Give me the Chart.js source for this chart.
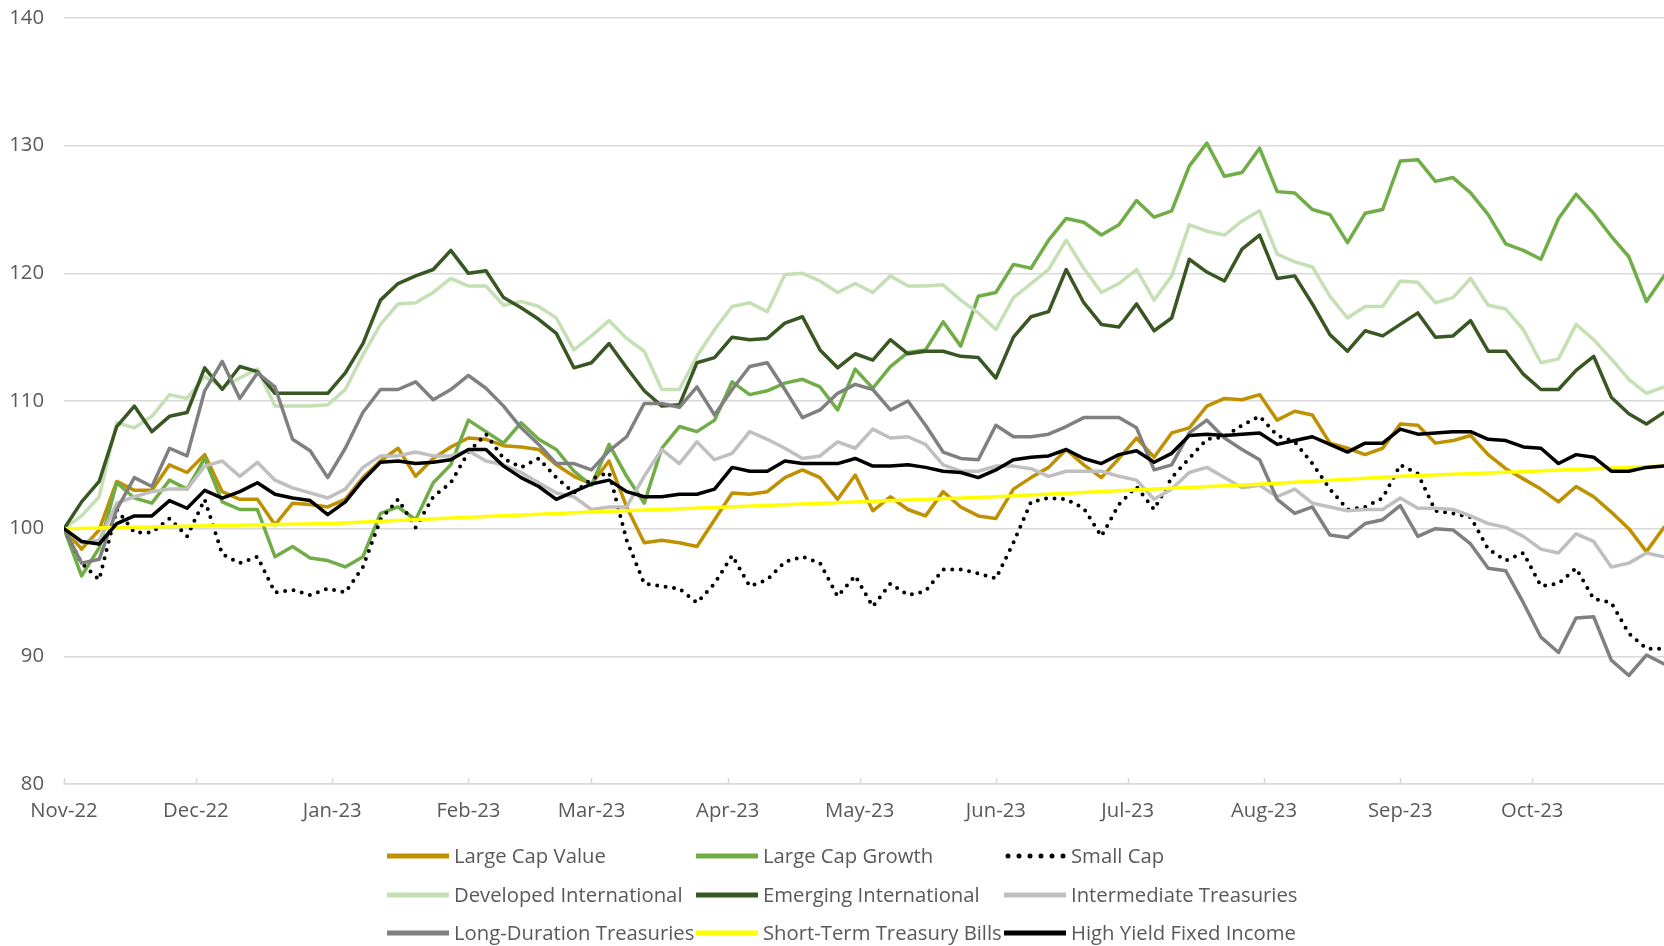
<!DOCTYPE html>
<html>
<head>
<meta charset="utf-8">
<title>Asset class growth of 100</title>
<script src="https://cdn.jsdelivr.net/npm/chart.js@4.4.1/dist/chart.umd.min.js"></script>
<style>
  html, body { margin: 0; padding: 0; background: #ffffff; }
  #wrap { width: 1664px; height: 946px; }
</style>
</head>
<body>
<div id="wrap"><canvas id="gIndex" width="1664" height="946"></canvas></div>
<script>
// x = days since 1 Nov 2022, one reading every 4 days
var days = Array.from({ length: 92 }, function (_, i) { return i * 4; });

var monthDays = [0, 30, 61, 92, 120, 151, 181, 212, 242, 273, 304, 334];
var monthLabels = ['Nov-22', 'Dec-22', 'Jan-23', 'Feb-23', 'Mar-23', 'Apr-23',
                   'May-23', 'Jun-23', 'Jul-23', 'Aug-23', 'Sep-23', 'Oct-23'];
var yTicks = [80, 90, 100, 110, 120, 130, 140];

var largeCapValue = [
  100.0, 98.4, 99.9, 103.7, 103.0, 103.0, 105.0, 104.4, 105.8, 102.9, 102.3, 102.3, 100.3, 102.0, 101.9, 101.7,
  102.3, 104.0, 105.3, 106.3, 104.1, 105.5, 106.4, 107.1, 107.0, 106.5, 106.4, 106.2, 105.0, 104.1, 103.5,
  105.3, 101.7, 98.9, 99.1, 98.9, 98.6, 100.7, 102.8, 102.7, 102.9, 104.0, 104.6, 104.0, 102.3, 104.2, 101.4,
  102.5, 101.5, 101.0, 102.9, 101.7, 101.0, 100.8, 103.1, 104.0, 104.8, 106.2, 105.0, 104.0, 105.5, 107.1,
  105.6, 107.5, 107.9, 109.6, 110.2, 110.1, 110.5, 108.5, 109.2, 108.9, 106.7, 106.3, 105.8, 106.3, 108.2,
  108.1, 106.7, 106.9, 107.3, 105.8, 104.7, 103.9, 103.1, 102.1, 103.3, 102.5, 101.3, 100.0, 98.2, 100.1
];
var largeCapGrowth = [
  100.0, 96.3, 98.5, 103.6, 102.4, 102.0, 103.8, 103.1, 105.5, 102.1, 101.5, 101.5, 97.8, 98.6, 97.7, 97.5,
  97.0, 97.8, 101.2, 101.7, 100.7, 103.6, 105.0, 108.5, 107.6, 106.7, 108.3, 107.0, 106.2, 104.5, 103.4,
  106.6, 104.1, 102.0, 106.3, 108.0, 107.6, 108.5, 111.5, 110.5, 110.8, 111.4, 111.7, 111.1, 109.3, 112.5, 111.0,
  112.7, 113.8, 114.0, 116.2, 114.3, 118.2, 118.5, 120.7, 120.4, 122.6, 124.3, 124.0, 123.0, 123.8, 125.7,
  124.4, 124.9, 128.4, 130.2, 127.6, 127.9, 129.8, 126.4, 126.3, 125.0, 124.6, 122.4, 124.7, 125.0, 128.8,
  128.9, 127.2, 127.5, 126.3, 124.6, 122.3, 121.8, 121.1, 124.3, 126.2, 124.7, 122.9, 121.3, 117.8, 119.8
];
var smallCap = [
  100.0, 97.3, 96.0, 101.5, 99.7, 99.7, 100.8, 99.4, 102.3, 98.0, 97.3, 97.8, 95.0, 95.2, 94.8, 95.3,
  95.0, 97.0, 100.7, 102.3, 100.1, 102.5, 103.6, 106.0, 107.4, 105.5, 104.8, 105.5, 104.0, 102.8, 103.9,
  104.4, 99.1, 95.7, 95.5, 95.3, 94.2, 95.7, 97.9, 95.5, 96.0, 97.4, 97.8, 97.3, 94.7, 96.3, 93.9,
  95.7, 94.8, 95.1, 96.8, 96.8, 96.5, 96.1, 98.9, 102.1, 102.4, 102.3, 101.6, 99.4, 101.9, 103.3,
  101.5, 104.0, 105.5, 107.0, 107.2, 108.1, 108.8, 107.3, 106.8, 105.1, 103.1, 101.5, 101.7, 102.4, 105.0,
  104.3, 101.4, 101.2, 100.9, 98.4, 97.5, 98.1, 95.5, 95.7, 96.9, 94.5, 94.2, 91.8, 90.6, 90.6
];
var developedIntl = [
  100.0, 101.0, 102.5, 108.3, 107.9, 108.8, 110.5, 110.2, 111.9, 111.1, 111.8, 112.5, 109.6, 109.6, 109.6, 109.7,
  110.9, 113.6, 116.0, 117.6, 117.7, 118.5, 119.6, 119.0, 119.0, 117.5, 117.8, 117.4, 116.5, 114.0, 115.1,
  116.3, 114.9, 113.9, 110.9, 110.9, 113.5, 115.6, 117.4, 117.7, 117.0, 119.9, 120.0, 119.4, 118.5, 119.2, 118.5,
  119.8, 119.0, 119.0, 119.1, 117.9, 116.9, 115.6, 118.1, 119.2, 120.3, 122.6, 120.4, 118.5, 119.2, 120.3,
  117.9, 119.8, 123.8, 123.3, 123.0, 124.1, 124.9, 121.5, 120.9, 120.5, 118.2, 116.5, 117.4, 117.4, 119.4,
  119.3, 117.7, 118.1, 119.6, 117.5, 117.2, 115.6, 113.0, 113.3, 116.0, 114.8, 113.3, 111.7, 110.6, 111.1
];
var emergingIntl = [
  100.0, 102.1, 103.7, 108.0, 109.6, 107.6, 108.8, 109.1, 112.6, 110.9, 112.7, 112.3, 110.6, 110.6, 110.6, 110.6,
  112.2, 114.5, 117.9, 119.2, 119.8, 120.3, 121.8, 120.0, 120.2, 118.1, 117.3, 116.4, 115.3, 112.6, 113.0,
  114.5, 112.6, 110.8, 109.6, 109.7, 113.0, 113.4, 115.0, 114.8, 114.9, 116.1, 116.6, 114.0, 112.6, 113.7, 113.2,
  114.8, 113.7, 113.9, 113.9, 113.5, 113.4, 111.8, 115.0, 116.6, 117.0, 120.3, 117.7, 116.0, 115.8, 117.6,
  115.5, 116.5, 121.1, 120.1, 119.4, 121.9, 123.0, 119.6, 119.8, 117.6, 115.2, 113.9, 115.5, 115.1, 116.0,
  116.9, 115.0, 115.1, 116.3, 113.9, 113.9, 112.1, 110.9, 110.9, 112.4, 113.5, 110.3, 109.0, 108.2, 109.1
];
var intermediateTsy = [
  100.0, 98.9, 99.1, 102.0, 102.5, 102.9, 103.1, 103.1, 104.9, 105.3, 104.1, 105.2, 103.8, 103.2, 102.8, 102.4,
  103.1, 104.8, 105.7, 105.7, 106.0, 105.7, 105.7, 106.1, 105.3, 105.0, 104.4, 103.6, 102.8, 102.5, 101.5,
  101.7, 101.7, 104.1, 106.2, 105.1, 106.8, 105.4, 105.9, 107.6, 107.0, 106.3, 105.5, 105.7, 106.8, 106.3, 107.8,
  107.1, 107.2, 106.6, 105.0, 104.5, 104.5, 104.9, 104.9, 104.7, 104.1, 104.5, 104.5, 104.5, 104.1, 103.8,
  102.3, 103.1, 104.4, 104.8, 104.0, 103.2, 103.4, 102.5, 103.1, 102.0, 101.7, 101.4, 101.5, 101.5, 102.4,
  101.6, 101.6, 101.5, 101.0, 100.4, 100.1, 99.4, 98.4, 98.1, 99.6, 99.0, 97.0, 97.3, 98.1, 97.8
];
var longDurationTsy = [
  100.0, 97.3, 97.6, 101.5, 104.0, 103.3, 106.3, 105.7, 110.8, 113.1, 110.2, 112.2, 111.1, 107.0, 106.1, 104.0,
  106.3, 109.1, 110.9, 110.9, 111.5, 110.1, 110.9, 112.0, 111.0, 109.6, 107.9, 106.6, 105.1, 105.1, 104.6,
  106.1, 107.2, 109.8, 109.8, 109.5, 111.1, 108.9, 110.9, 112.7, 113.0, 110.9, 108.7, 109.3, 110.6, 111.3, 110.9,
  109.3, 110.0, 108.1, 106.0, 105.5, 105.4, 108.1, 107.2, 107.2, 107.4, 108.0, 108.7, 108.7, 108.7, 107.9,
  104.6, 105.0, 107.5, 108.5, 107.1, 106.2, 105.4, 102.3, 101.2, 101.7, 99.5, 99.3, 100.4, 100.7, 101.8,
  99.4, 100.0, 99.9, 98.8, 96.9, 96.7, 94.2, 91.5, 90.3, 93.0, 93.1, 89.7, 88.5, 90.1, 89.4
];
var highYield = [
  100.0, 99.0, 98.8, 100.4, 101.0, 101.0, 102.2, 101.6, 103.0, 102.4, 102.9, 103.6, 102.7, 102.4, 102.2, 101.1,
  102.1, 103.8, 105.2, 105.3, 105.1, 105.2, 105.4, 106.2, 106.2, 104.9, 104.0, 103.3, 102.3, 102.9, 103.5,
  103.8, 102.9, 102.5, 102.5, 102.7, 102.7, 103.1, 104.8, 104.5, 104.5, 105.3, 105.1, 105.1, 105.1, 105.5, 104.9,
  104.9, 105.0, 104.8, 104.5, 104.4, 104.0, 104.6, 105.4, 105.6, 105.7, 106.2, 105.5, 105.1, 105.8, 106.1,
  105.2, 105.9, 107.3, 107.4, 107.3, 107.4, 107.5, 106.6, 106.9, 107.2, 106.6, 106.0, 106.7, 106.7, 107.8,
  107.4, 107.5, 107.6, 107.6, 107.0, 106.9, 106.4, 106.3, 105.1, 105.8, 105.6, 104.5, 104.5, 104.8, 104.9
];
// T-bills are a near straight line, read at month starts
var billDays = [0, 30, 61, 92, 120, 151, 181, 212, 242, 273, 304, 334, 364];
var billValues = [100.0, 100.2, 100.4, 100.9, 101.3, 101.7, 102.1, 102.5, 103.0, 103.5, 104.1, 104.5, 104.9];

var seriesNames = ['Large Cap Value', 'Large Cap Growth', 'Small Cap',
                   'Developed International', 'Emerging International', 'Intermediate Treasuries',
                   'Long-Duration Treasuries', 'Short-Term Treasury Bills', 'High Yield Fixed Income'];
var seriesColors = ['#BF9000', '#70AD47', '#000000',
                    '#C5E0B4', '#385723', '#BFBFBF',
                    '#808080', '#FFFF00', '#000000'];
var seriesValues = [largeCapValue, largeCapGrowth, smallCap,
                    developedIntl, emergingIntl, intermediateTsy,
                    longDurationTsy, billValues, highYield];

var textColor = '#595959';
var gridColor = '#D9D9D9';
var fontSize = 20.3;
Chart.defaults.font.family = "'Open Sans', sans-serif";

var datasets = seriesNames.map(function (name, i) {
  var xs = seriesValues[i] === billValues ? billDays : days;
  var ys = seriesValues[i];
  return {
    label: name,
    data: xs.map(function (d, k) { return { x: d, y: ys[k] }; }),
    borderColor: seriesColors[i],
    backgroundColor: seriesColors[i],
    borderWidth: name === 'Small Cap' ? 4 : 3.5,
    borderDash: name === 'Small Cap' ? [0, 8.5] : [],
    borderCapStyle: 'round',
    borderJoinStyle: 'round',
    pointRadius: 0,
    tension: 0,
    fill: false,
    // later series sit on top, like the original
    order: seriesNames.length - i
  };
});

// small tick marks pointing up from the date axis
var upTicks = {
  id: 'upTicks',
  beforeDatasetsDraw: function (chart) {
    var sx = chart.scales.x, ctx = chart.ctx, b = chart.chartArea.bottom;
    ctx.save();
    ctx.strokeStyle = gridColor;
    ctx.lineWidth = 1.5;
    monthDays.forEach(function (d) {
      var px = Math.round(sx.getPixelForValue(d)) + 0.5;
      ctx.beginPath();
      ctx.moveTo(px, b);
      ctx.lineTo(px, b - 6);
      ctx.stroke();
    });
    ctx.restore();
  }
};

// legend in three fixed columns under the axis
var seriesKey = {
  id: 'seriesKey',
  afterDraw: function (chart) {
    var ctx = chart.ctx;
    var cols = [387, 696, 1004];
    var rows = [856, 895, 933];
    ctx.save();
    ctx.font = fontSize + "px 'Open Sans'";
    ctx.textBaseline = 'middle';
    chart.data.datasets.forEach(function (ds, i) {
      var x = cols[i % 3], y = rows[Math.floor(i / 3)];
      var dotted = ds.borderDash.length > 0;
      ctx.beginPath();
      ctx.strokeStyle = ds.borderColor;
      ctx.lineWidth = 5;
      ctx.lineCap = dotted ? 'round' : 'butt';
      ctx.setLineDash(dotted ? [0, 11] : []);
      ctx.moveTo(x + (dotted ? 4 : 0), y);
      ctx.lineTo(x + 62, y);
      ctx.stroke();
      ctx.setLineDash([]);
      ctx.fillStyle = textColor;
      ctx.fillText(ds.label, x + 67, y + 1);
    });
    ctx.restore();
  }
};

new Chart(document.getElementById('gIndex').getContext('2d'), {
  type: 'line',
  data: { datasets: datasets },
  plugins: [upTicks, seriesKey],
  options: {
    responsive: false,
    animation: false,
    devicePixelRatio: 1,
    layout: { padding: { top: 18, right: 0, bottom: 0, left: 0 } },
    plugins: {
      legend: { display: false },
      tooltip: { enabled: false }
    },
    scales: {
      x: {
        type: 'linear',
        min: 0,
        max: 364,
        afterBuildTicks: function (scale) {
          scale.ticks = monthDays.map(function (d) { return { value: d }; });
        },
        afterFit: function (scale) { scale.height = 162; },
        ticks: {
          autoSkip: false,
          maxRotation: 0,
          padding: 15,
          color: textColor,
          font: { size: fontSize },
          callback: function (v) { return monthLabels[monthDays.indexOf(v)]; }
        },
        grid: { display: false, drawTicks: false },
        border: { display: true, color: gridColor, width: 1.5 }
      },
      y: {
        min: 80,
        max: 140,
        afterBuildTicks: function (scale) {
          scale.ticks = yTicks.map(function (v) { return { value: v }; });
        },
        afterFit: function (scale) {
          scale.width = 64;
          // label gap should not push the plot down
          scale.paddingTop = 0;
          scale.paddingBottom = 0;
        },
        ticks: { padding: 20, color: textColor, font: { size: fontSize } },
        grid: { color: gridColor, lineWidth: 1.5, drawTicks: false },
        border: { display: false }
      }
    }
  }
});
</script>
</body>
</html>
